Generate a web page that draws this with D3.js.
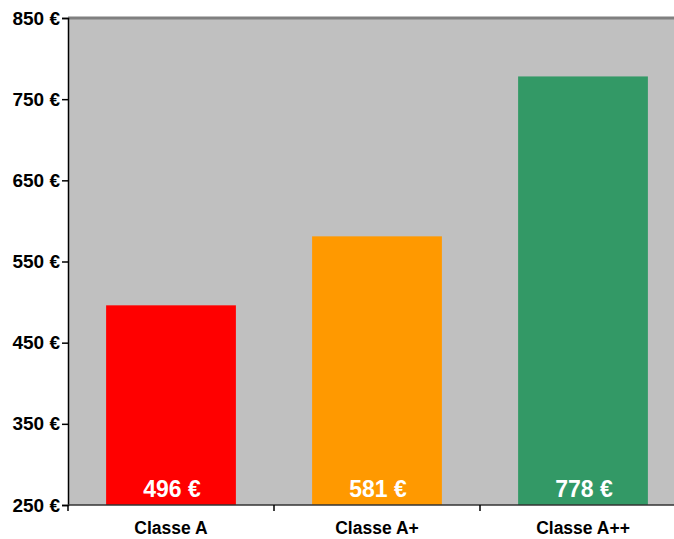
<!DOCTYPE html>
<html><head><meta charset="utf-8">
<script src="https://cdn.jsdelivr.net/npm/d3@7"></script>
<style>body{margin:0;background:#fff}svg{display:block}</style>
</head><body>
<script>
const categories = ["Classe A", "Classe A+", "Classe A++"];
const values = [496, 581, 778];
const colors = ["#ff0000", "#ff9900", "#339966"];
const yTicks = [250, 350, 450, 550, 650, 750, 850];

const W = 674, H = 539;
const L = 68, R = 686, T = 18, B = 505;
const svg = d3.select("body").append("svg").attr("width", W).attr("height", H)
  .style("font-family", "'Liberation Sans', Arial, sans-serif");

const x = d3.scaleBand().domain(categories).range([L, R]).paddingInner(0.37).paddingOuter(0.185);
const y = d3.scaleLinear().domain([250, 850]).range([B, T]);

svg.append("rect").attr("x", L).attr("y", T).attr("width", R - L).attr("height", B - T).attr("fill", "#c0c0c0");
svg.append("line").attr("x1", L).attr("x2", W).attr("y1", T).attr("y2", T).attr("stroke", "#808080").attr("stroke-width", 3);

svg.selectAll("rect.bar").data(values).join("rect").attr("class", "bar")
  .attr("x", (d, i) => x(categories[i])).attr("width", x.bandwidth())
  .attr("y", d => y(d)).attr("height", d => y(250) - y(d))
  .attr("fill", (d, i) => colors[i]);

svg.selectAll("text.val").data(values).join("text").attr("class", "val")
  .attr("x", (d, i) => x(categories[i]) + x.bandwidth() / 2 + 1)
  .attr("y", B - 8).attr("text-anchor", "middle")
  .attr("fill", "#fff").style("font-weight", "bold").style("font-size", "23px")
  .text(d => d + " €");

// y axis
const ya = svg.append("g").attr("transform", `translate(${L},0)`)
  .call(d3.axisLeft(y).tickValues(yTicks).tickSize(6).tickPadding(2).tickFormat(d => d + " €"));
ya.attr("font-size", null).attr("font-family", null);
ya.select(".domain").attr("stroke", "#000").attr("stroke-width", 1.5);
ya.selectAll(".tick line").attr("stroke", "#000").attr("stroke-width", 1.5);
ya.selectAll(".tick text").style("font-size", "19px").style("font-weight", "bold").attr("fill", "#000")
  .style("font-family", "'Liberation Sans', Arial, sans-serif");

// x axis
const step = x.step();
const bounds = [L, L + step, L + 2 * step];
const xa = svg.append("g");
xa.append("line").attr("x1", L).attr("x2", W).attr("y1", B).attr("y2", B).attr("stroke", "#333").attr("stroke-width", 1.5);
xa.selectAll("line.tk").data(bounds).join("line").attr("class", "tk")
  .attr("x1", d => d).attr("x2", d => d).attr("y1", B).attr("y2", B + 6).attr("stroke", "#000").attr("stroke-width", 1.5);
xa.selectAll("text").data(categories).join("text")
  .attr("x", d => x(d) + x.bandwidth() / 2).attr("y", 534)
  .attr("text-anchor", "middle").style("font-size", "17.5px").style("font-weight", "bold").attr("fill", "#000")
  .text(d => d);
</script>
</body></html>
